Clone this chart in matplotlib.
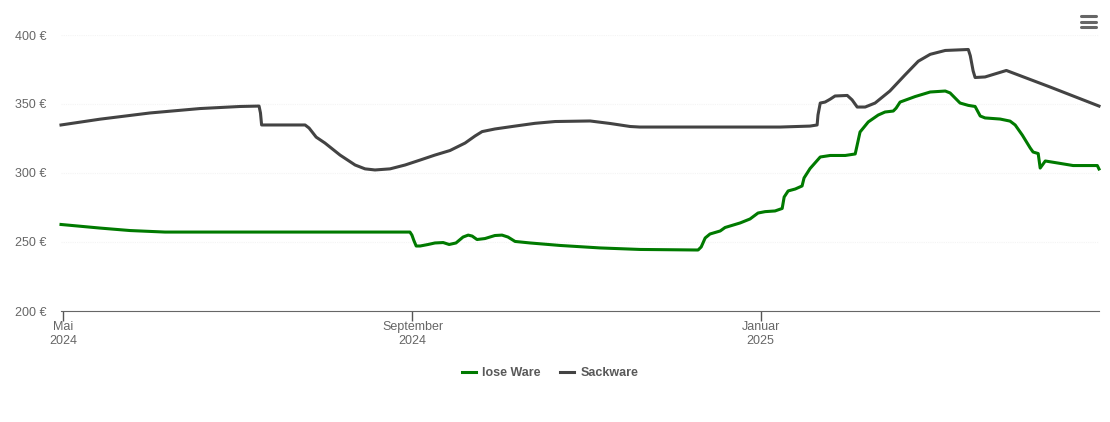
"""
Price chart, lose Ware and Sackware.

"""

import matplotlib
matplotlib.use("Agg")
import matplotlib.pyplot as plt
from matplotlib.lines import Line2D

# x is in days since the Mai 2024 tick
tick_days = [0, 123, 245.5]
tick_labels = ["Mai\n2024", "September\n2024", "Januar\n2025"]

y_ticks = [200, 250, 300, 350, 400]
y_labels = ["200 €", "250 €", "300 €", "350 €", "400 €"]

lose_days = [-0.7, 13, 23.6, 35.9, 48.2, 83.4, 122.1, 122.8, 123.5, 124.3, 125.7, 128.5, 130.9, 133.8, 135.9,
             138.3, 140.8, 142.6, 144, 145.7, 148.5, 152, 154.5, 156.6, 159.1, 164.4, 174.9, 189, 203.1, 223.5,
             224.6, 226, 227.7, 231.3, 233, 238.3, 241.8, 244.6, 247.1, 250.6, 253.1, 253.8, 255.2, 257.7, 260.1,
             260.8, 262.9, 266.5, 270, 275.3, 278.8, 279.5, 280.5, 283.4, 286.9, 289.3, 292.2, 293.2, 294.6,
             299.9, 305.2, 310.5, 312.2, 315.7, 318.6, 321, 322.8, 324.5, 329.8, 333.3, 335.1, 337.6, 340.4,
             341.4, 343.2, 343.9, 345.7, 350.2, 355.5, 364, 364.6]
lose_vals = [262.7, 260.1, 258.3, 257.2, 257.2, 257.2, 257.2, 255, 251, 247.1, 247.1, 248.2, 249.3, 249.6, 248.2,
             249.3, 253.6, 255, 254.3, 251.8, 252.5, 254.7, 255, 253.6, 250.4, 249.3, 247.5, 245.7, 244.6, 244.2,
             246.4, 252.9, 255.8, 258, 260.5, 263.8, 266.7, 271, 272, 272.5, 274.3, 282.6, 287, 288.4, 290.6,
             296.4, 303.2, 311.6, 312.7, 312.7, 313.8, 320.3, 329.7, 337, 342, 344.2, 344.9, 347, 351.4,
             355.4, 358.7, 359.4, 358, 350.7, 349, 348.2, 341.3, 339.9, 339.1, 337.6, 334.8, 327.5, 318.1,
             315.2, 314.1, 303.6, 308.7, 307.2, 305.4, 305.4, 302.9]

sack_days = [-0.7, 13, 30.6, 48.2, 62.3, 69, 69.5, 69.9, 85.2, 86.6, 89.1, 92.2, 97.5, 102.8, 106.3, 109.8,
             115.1, 120.4, 125.7, 130.9, 136.2, 141.5, 145, 147.5, 152, 159.1, 166.1, 173.2, 185.5, 192.5,
             199.6, 203, 224.2, 252.4, 262.9, 265.4, 265.7, 266.5, 268.2, 270, 271.7, 276, 277.7, 279.5, 282.3,
             285.8, 291, 296.3, 301, 305.2, 310.5, 318.6, 319.3, 320.3, 321, 324.5, 328, 332, 347.4, 364.6]
sack_vals = [334.8, 339, 343.5, 346.7, 348.2, 348.5, 343.5, 334.8, 334.8, 332.6, 326, 321.7, 313, 305.8, 303, 302.2,
             303, 305.8, 309.4, 313, 316.3, 321.7, 326.8, 330, 331.9, 334, 336, 337.3, 337.7, 335.9,
             333.7, 333.3, 333.3, 333.3, 334, 334.8, 342, 350.7, 351.4, 353.5, 355.8, 356.2, 353, 347.8, 347.8,
             350.7, 359.4, 371, 381, 386, 388.8, 389.5, 385, 374, 369.2, 369.6, 371.8, 374.3, 362.3, 348.5]


def main():
    """
    Draws the chart and saves it as out.png.

    :return: None.
    """
    fig = plt.figure(figsize=(11.1, 4.22), dpi=100)
    ax = fig.add_axes([61 / 1110, 1 - 311 / 422, 1038 / 1110, 276 / 422])

    ax.plot(lose_days, lose_vals, color="#007a00", lw=2.2, solid_joinstyle="round", clip_on=False)
    ax.plot(sack_days, sack_vals, color="#434343", lw=2.2, solid_joinstyle="round", clip_on=False)

    ax.set_xlim(-0.7, 364.6)
    ax.set_ylim(200, 400)
    ax.set_yticks(y_ticks)
    ax.set_yticklabels(y_labels, fontsize=9, color="#666666", family="Liberation Sans")
    ax.set_xticks(tick_days)
    ax.set_xticklabels(tick_labels, fontsize=9, color="#666666", family="Liberation Sans", linespacing=1.25)
    ax.tick_params(axis="y", length=0, pad=10.5)
    ax.tick_params(axis="x", length=7, color="#555555", width=1, pad=0)
    ax.grid(axis="y", color="#f4f4f4", lw=0.8, ls=(0, (1, 1)))
    ax.set_axisbelow(True)
    for side in ["top", "left", "right"]:
        ax.spines[side].set_visible(False)
    ax.spines["bottom"].set_color("#666666")

    handles = [Line2D([], [], color="#007a00", lw=2.2), Line2D([], [], color="#434343", lw=2.2)]
    legend = fig.legend(handles, ["lose Ware", "Sackware"], loc="center", bbox_to_anchor=(550 / 1110, 1 - 373 / 422),
                        ncol=2, frameon=False, handlelength=1.1, handletextpad=0.5, columnspacing=1.6,
                        prop={"family": "Liberation Sans", "size": 9, "weight": "bold"})
    for text in legend.get_texts():
        text.set_color("#595959")

    # menu icon, top right
    for y in [16, 21.5, 27]:
        fig.add_artist(Line2D([1081 / 1110, 1096 / 1110], [1 - y / 422] * 2, color="#666666", lw=2.2,
                              solid_capstyle="round"))

    fig.savefig("out.png", dpi=100)


main()
